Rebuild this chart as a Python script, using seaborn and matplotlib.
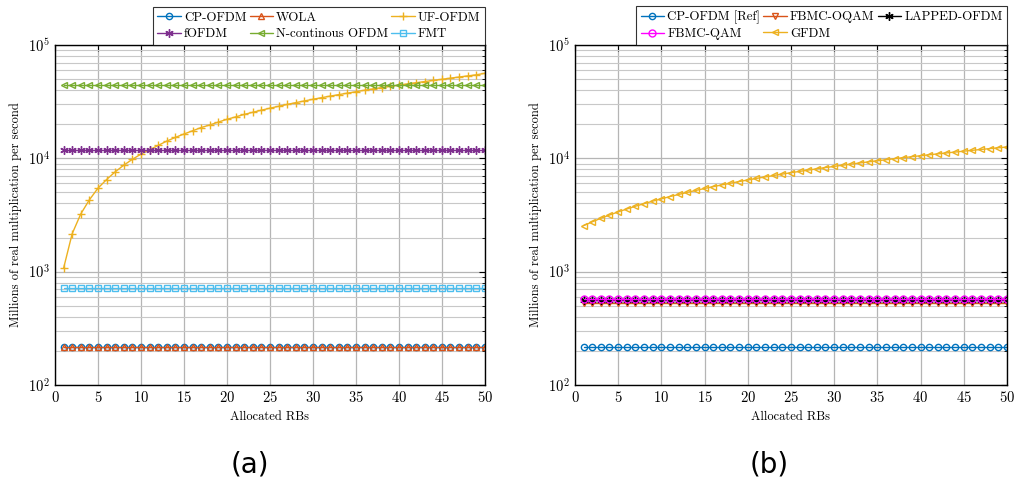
import numpy as np
import matplotlib
matplotlib.use("Agg")
import matplotlib.pyplot as plt
import seaborn as sns

rbs = list(range(1, 51))

# panel (a)
cp_ofdm_a = [215] * len(rbs)
wola = [217] * len(rbs)
fmt = [720] * len(rbs)
f_ofdm = [11900] * len(rbs)
nc_ofdm = [44000] * len(rbs)
uf_ofdm = [1070, 2160, 3230, 4300, 5450, 6500, 7600, 8700, 9800, 10900,
           11900, 13000, 14200, 15300, 16400, 17500, 18700, 19700, 20900, 22100,
           23200, 24400, 25500, 26600, 27700, 28800, 29900, 31000, 32100, 33200,
           34300, 35400, 36500, 37600, 38700, 39900, 41000, 42100, 43200, 44300,
           45400, 46500, 47600, 48700, 49800, 51000, 52200, 53400, 54600, 56300]

# panel (b)
cp_ofdm_b = [215] * len(rbs)
fbmc_oqam = [528] * len(rbs)
lapped_ofdm = [568] * len(rbs)
fbmc_qam = [570] * len(rbs)
gfdm = [2550, 2750, 2960, 3160, 3370, 3570, 3780, 3980, 4190, 4390,
        4600, 4800, 5010, 5210, 5420, 5620, 5830, 6030, 6240, 6440,
        6650, 6850, 7060, 7260, 7470, 7670, 7880, 8080, 8290, 8490,
        8700, 8900, 9110, 9310, 9520, 9720, 9930, 10130, 10340, 10540,
        10750, 10950, 11160, 11360, 11570, 11770, 11980, 12180, 12390, 12590]

sns.set_style("white")
plt.rcParams["font.family"] = ["serif"]
plt.rcParams["font.serif"] = ["cmr10", "DejaVu Serif"]
plt.rcParams["mathtext.fontset"] = "cm"
plt.rcParams["axes.formatter.use_mathtext"] = True
plt.rcParams["text.color"] = "black"
plt.rcParams["axes.labelcolor"] = "black"
plt.rcParams["xtick.color"] = "black"
plt.rcParams["ytick.color"] = "black"

fig = plt.figure(figsize=(10.14, 4.92), dpi=100)
ax_a = fig.add_axes([0.0542, 0.2175, 0.424, 0.691])
ax_b = fig.add_axes([0.567, 0.2175, 0.426, 0.691])

asterisk = (6, 2, 0)

series_a = [
    ("CP-OFDM", cp_ofdm_a, "#0072BD", "o", "none", 4.5),
    ("WOLA", wola, "#D95319", "^", "none", 4.5),
    ("UF-OFDM", uf_ofdm, "#EDB120", "+", "#EDB120", 6),
    ("fOFDM", f_ofdm, "#7E2F8E", asterisk, "#7E2F8E", 6),
    ("N-continous OFDM", nc_ofdm, "#77AC30", "<", "none", 4.5),
    ("FMT", fmt, "#4DBEEE", "s", "none", 4.5),
]
series_b = [
    ("CP-OFDM [Ref]", cp_ofdm_b, "#0072BD", "o", "none", 4.5),
    ("FBMC-OQAM", fbmc_oqam, "#D95319", "v", "none", 4.5),
    ("LAPPED-OFDM", lapped_ofdm, "black", asterisk, "black", 6),
    ("FBMC-QAM", fbmc_qam, "#FF00FF", "o", "none", 5),
    ("GFDM", gfdm, "#EDB120", "<", "none", 4.5),
]
# legend reads row by row, matplotlib fills column by column
order_a = [0, 3, 1, 4, 2, 5]
order_b = [0, 3, 1, 4, 2]

for ax, series, order in [(ax_a, series_a, order_a), (ax_b, series_b, order_b)]:
    for name, vals, color, mk, mfc, ms in series:
        sns.lineplot(x=rbs, y=vals, ax=ax, color=color, marker=mk,
                     markerfacecolor=mfc, markeredgecolor=color, markersize=ms,
                     markeredgewidth=1.0, linewidth=1.0, label=name)
    ax.set_yscale("log")
    ax.set_xlim(0, 50)
    ax.set_ylim(1e2, 1e5)
    ax.set_xticks(range(0, 51, 5))
    ax.grid(True, which="major", color="#b5b5b5", linewidth=0.9)
    ax.grid(True, which="minor", axis="y", color="#c8c8c8", linewidth=0.8)
    ax.set_axisbelow(True)
    ax.tick_params(which="both", direction="in", top=True, right=True, labelsize=10.5)
    ax.tick_params(which="major", length=4)
    ax.tick_params(which="minor", length=2)
    for s in ax.spines.values():
        s.set_color("black")
        s.set_linewidth(1.0)
    ax.set_xlabel("Allocated RBs", fontsize=9)
    ax.set_ylabel("Millions of real multiplication per second", fontsize=9)

    handles, labels = ax.get_legend_handles_labels()
    leg = ax.legend([handles[i] for i in order], [labels[i] for i in order],
                    loc="lower right", bbox_to_anchor=(1.0, 1.0), ncol=3,
                    fontsize=9.3, frameon=True, fancybox=False, edgecolor="black",
                    borderaxespad=0, handlelength=1.8, handletextpad=0.25,
                    columnspacing=0.25, labelspacing=0.35, borderpad=0.35)
    leg.get_frame().set_linewidth(0.8)

fig.text(0.2465, 0.055, "(a)", fontsize=20, family=["DejaVu Sans"], ha="center", va="center")
fig.text(0.759, 0.055, "(b)", fontsize=20, family=["DejaVu Sans"], ha="center", va="center")

fig.savefig("out.png", dpi=100)
